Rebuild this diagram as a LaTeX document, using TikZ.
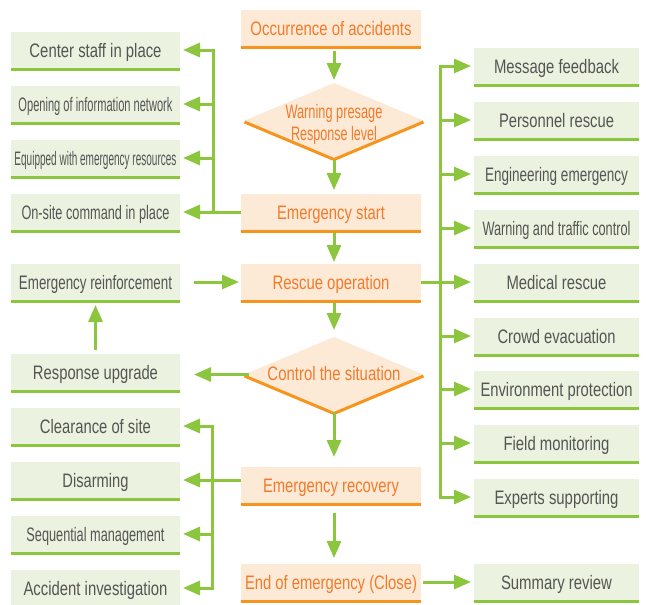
\documentclass[tikz,border=0pt]{standalone}
\usepackage{fontspec}
\setmainfont{Liberation Sans}
\usetikzlibrary{arrows.meta,shapes.geometric}
\definecolor{gfill}{HTML}{EBF2DF}
\definecolor{gline}{HTML}{8CC63F}
\definecolor{gtext}{HTML}{555555}
\definecolor{ofill}{HTML}{FDEAD6}
\definecolor{oline}{HTML}{F7941D}
\definecolor{otext}{HTML}{F37A2A}
\newcommand{\tw}[2]{\resizebox{#1pt}{\height}{#2}}
\begin{document}
\begin{tikzpicture}[x=1pt,y=-1pt,
  every node/.style={font=\fontsize{19.5}{22}\selectfont, inner sep=0pt, outer sep=0pt},
  boxtext/.style={text height=15.5pt, text depth=1.5pt},
  gbox/.style={boxtext, fill=gfill, text=gtext, minimum width=169pt, minimum height=36pt},
  rbox/.style={boxtext, fill=gfill, text=gtext, minimum width=165pt, minimum height=36pt},
  obox/.style={boxtext, fill=ofill, text=otext, minimum width=180pt, minimum height=36pt},
  odia/.style={shape=diamond, fill=ofill, minimum width=179pt, minimum height=75pt},
  ln/.style={draw=gline, line width=3pt},
  bus/.style={draw=gline, line width=3pt, line cap=rect},
  arr/.style={draw=gline, line width=3pt, -{Triangle[length=17pt,width=14pt]}}]
\useasboundingbox (0,0) rectangle (646,605);
\fill[white] (0,0) rectangle (646,605);
% left column
\node[gbox] (staff)  at (95.5,50)  {\tw{132}{Center staff in place}};
\node[gbox] (net)    at (95.5,104) {\tw{154}{Opening of information network}};
\node[gbox] (equip)  at (95.5,158) {\tw{162}{Equipped with emergency resources}};
\node[gbox] (onsite) at (95.5,212) {\tw{148}{On-site command in place}};
\node[gbox] (reinf)  at (95.5,282) {\tw{153}{Emergency reinforcement}};
\node[gbox] (upgrade) at (95.5,372) {\tw{125}{Response upgrade}};
\node[gbox] (clear)  at (95.5,426) {\tw{111}{Clearance of site}};
\node[gbox] (disarm) at (95.5,480) {\tw{66}{Disarming}};
\node[gbox] (seq)    at (95.5,534) {\tw{138}{Sequential management}};
\node[gbox] (invest) at (95.5,588) {\tw{144}{Accident investigation}};
% center column
\node[obox] (occ)    at (331,28)  {\tw{161}{Occurrence of accidents}};
\node[odia] (d1)     at (334,120.5) {};
\node[text=otext, align=center] at (334,124) {\tw{97}{Warning presage}\\\tw{86}{Response level}};
\node[obox] (start)  at (331,212) {\tw{108}{Emergency start}};
\node[obox] (rescue) at (331,282) {\tw{117}{Rescue operation}};
\node[odia] (d2)     at (334,374.5) {};
\node[boxtext, text=otext] at (334,373.5) {\tw{133}{Control the situation}};
\node[obox] (recov)  at (331,485) {\tw{136}{Emergency recovery}};
\node[obox] (end)    at (331,582) {\tw{172}{End of emergency (Close)}};
% right column
\node[rbox] (msg)   at (556.5,66)  {\tw{125}{Message feedback}};
\node[rbox] (pers)  at (556.5,120) {\tw{115}{Personnel rescue}};
\node[rbox] (eng)   at (556.5,174) {\tw{143}{Engineering emergency}};
\node[rbox] (warn)  at (556.5,228) {\tw{148}{Warning and traffic control}};
\node[rbox] (med)   at (556.5,282) {\tw{100}{Medical rescue}};
\node[rbox] (crowd) at (556.5,336) {\tw{118}{Crowd evacuation}};
\node[rbox] (env)   at (556.5,389) {\tw{152}{Environment protection}};
\node[rbox] (field) at (556.5,443) {\tw{106}{Field monitoring}};
\node[rbox] (exp)   at (556.5,497) {\tw{124}{Experts supporting}};
\node[rbox] (summ)  at (556.5,582) {\tw{111}{Summary review}};
% bottom lines
\foreach \n in {staff,net,equip,onsite,reinf,upgrade,clear,disarm,seq,invest,msg,pers,eng,warn,med,crowd,env,field,exp,summ}
  \draw[gline, line width=3.3pt] ([yshift=-1.65pt]\n.south west) -- ([yshift=-1.65pt]\n.south east);
\foreach \n in {occ,start,rescue,recov,end}
  \draw[oline, line width=3.3pt] ([yshift=-1.65pt]\n.south west) -- ([yshift=-1.65pt]\n.south east);
\foreach \n in {d1,d2}
  \draw[oline, line width=3pt] ([yshift=-1.5pt]\n.west) -- ([yshift=-1.5pt]\n.south) -- ([yshift=-1.5pt]\n.east);
% main flow
\draw[arr, shorten <=5pt, shorten >=3pt] (occ.south -| d1.north) -- (d1.north);
\draw[arr, shorten <=2pt, shorten >=4pt] (d1.south) -- (d1.south |- start.north);
\draw[arr, shorten <=3pt, shorten >=2pt] (d1.south |- start.south) -- (d1.south |- rescue.north);
\draw[arr, shorten <=3pt, shorten >=7pt] (d2.north |- rescue.south) -- (d2.north);
\draw[arr, shorten >=10pt] (d2.south) -- (d2.south |- recov.north);
\draw[arr, shorten <=10pt, shorten >=6pt] (d2.south |- recov.south) -- (d2.south |- end.north);
\draw[arr, shorten <=14pt, shorten >=2pt] (reinf.east) -- (rescue.west);
\draw[arr, shorten <=-4pt, shorten >=14pt] (d2.west) -- (d2.west -| upgrade.east);
\draw[arr, shorten <=4pt, shorten >=5pt] (upgrade.north) -- (reinf.south);
\draw[arr, shorten <=2pt, shorten >=3pt] (end.east) -- (summ.west);
% right bus
\coordinate (rb) at (440,282);
\draw[ln] (rescue.east) -- (rb);
\draw[bus] (rb |- msg.west) -- (rb |- exp.west);
\foreach \n in {msg,pers,eng,warn,med,crowd,env,field,exp}
  \draw[arr, shorten >=3pt] (rb |- \n.west) -- (\n.west);
% left top bus
\coordinate (lb1) at (213,212);
\draw[ln] (start.west) -- (lb1);
\draw[bus] (lb1 |- staff.east) -- (lb1 |- onsite.east);
\foreach \n in {staff,net,equip,onsite}
  \draw[arr, shorten >=3pt] (lb1 |- \n.east) -- (\n.east);
% left bottom bus
\coordinate (lb2) at (212,480);
\draw[ln] (recov.west |- disarm.east) -- (lb2);
\draw[bus] (lb2 |- clear.east) -- (lb2 |- invest.east);
\foreach \n in {clear,disarm,seq,invest}
  \draw[arr, shorten >=3pt] (lb2 |- \n.east) -- (\n.east);
\end{tikzpicture}
\end{document}
